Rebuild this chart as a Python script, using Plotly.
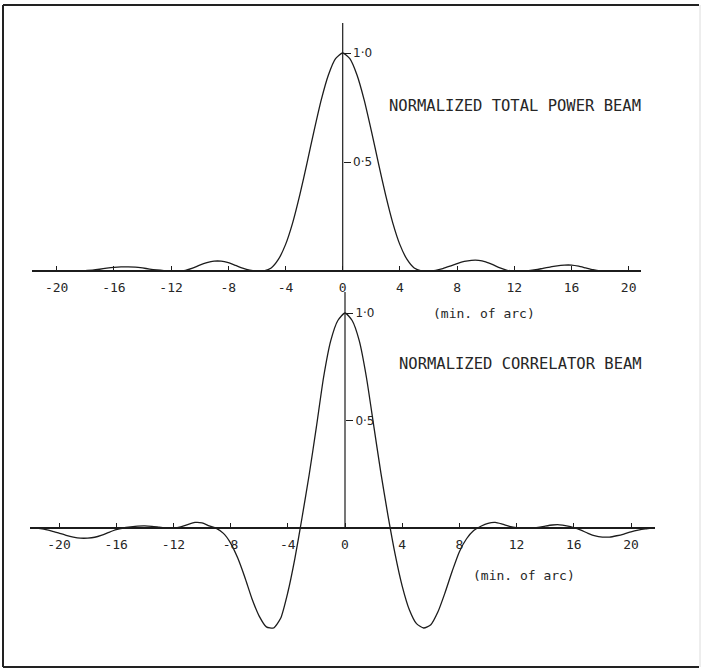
import plotly.graph_objects as go

# ---------------- data ----------------
x_arcmin = [-21.5, -21, -20.5, -20, -19.5, -19, -18.5, -18, -17.5, -17, -16.5, -16,
            -15.5, -15, -14.5, -14, -13.5, -13, -12.5, -12, -11.5, -11, -10.5, -10,
            -9.5, -9, -8.5, -8, -7.5, -7, -6.5, -6, -5.5, -5, -4.5, -4, -3.5, -3,
            -2.5, -2, -1.5, -1, -0.5, 0, 0.5, 1, 1.5, 2, 2.5, 3, 3.5, 4, 4.5, 5,
            5.5, 6, 6.5, 7, 7.5, 8, 8.5, 9, 9.5, 10, 10.5, 11, 11.5, 12, 12.5, 13,
            13.5, 14, 14.5, 15, 15.5, 16, 16.5, 17, 17.5, 18, 18.5, 19, 19.5, 20,
            20.5, 21]

total_power = [0.0, 0.0, 0.0, 0.0, 0.0, 0.0, 0.0, 0.002, 0.004, 0.008, 0.013, 0.017,
               0.019, 0.019, 0.018, 0.014, 0.009, 0.005, 0.002, 0.0, 0.0, 0.003, 0.013, 0.027,
               0.038, 0.045, 0.045, 0.038, 0.026, 0.013, 0.004, 0.0, 0.001, 0.014, 0.053, 0.121,
               0.221, 0.349, 0.494, 0.644, 0.785, 0.899, 0.974, 1.0, 0.974, 0.899, 0.785, 0.644,
               0.494, 0.349, 0.221, 0.121, 0.053, 0.014, 0.001, 0.0, 0.003, 0.011, 0.022, 0.034,
               0.044, 0.049, 0.049, 0.042, 0.029, 0.014, 0.003, 0.0, 0.0, 0.002, 0.006, 0.012,
               0.018, 0.024, 0.027, 0.027, 0.022, 0.014, 0.006, 0.001, 0.0, 0.0, 0.0, 0.0,
               0.0, 0.0]

x_corr = [-21.5, -21, -20.5, -20, -19.5, -19, -18.5, -18, -17.5, -17, -16.5, -16,
          -15.5, -15, -14.5, -14, -13.5, -13, -12.5, -12, -11.5, -11, -10.5, -10,
          -9.5, -9, -8.5, -8, -7.5, -7, -6.5, -6, -5.5, -5, -4.5, -4, -3.5, -3,
          -2.5, -2, -1.5, -1, -0.5, 0, 0.5, 1, 1.5, 2, 2.5, 3, 3.5, 4, 4.5, 5,
          5.5, 6, 6.5, 7, 7.5, 8, 8.5, 9, 9.5, 10, 10.5, 11, 11.5, 12, 12.5, 13,
          13.5, 14, 14.5, 15, 15.5, 16, 16.5, 17, 17.5, 18, 18.5, 19, 19.5, 20,
          20.5, 21, 21.5]

correlator = [0.0, -0.006, -0.014, -0.024, -0.034, -0.042, -0.047, -0.047, -0.043, -0.033, -0.02, -0.008,
              0.0, 0.005, 0.009, 0.01, 0.008, 0.004, 0.0, 0.0, 0.005, 0.016, 0.026, 0.024,
              0.01, -0.002, -0.025, -0.07, -0.14, -0.23, -0.33, -0.41, -0.46, -0.465, -0.42, -0.30,
              -0.14, 0.05, 0.25, 0.47, 0.70, 0.87, 0.965, 1.0, 0.965, 0.87, 0.70, 0.48,
              0.26, 0.06, -0.12, -0.27, -0.38, -0.445, -0.465, -0.45, -0.39, -0.30, -0.20, -0.11,
              -0.05, -0.012, 0.008, 0.022, 0.026, 0.018, 0.008, 0.002, 0.0, 0.0, 0.003, 0.009,
              0.014, 0.015, 0.01, 0.002, -0.01, -0.025, -0.037, -0.042, -0.042, -0.036, -0.028, -0.018,
              -0.01, -0.004, 0.0]

x_tick_vals = [-20, -16, -12, -8, -4, 0, 4, 8, 12, 16, 20]
x_tick_text = ["-20", "-16", "-12", "-8", "-4", "0", "4", "8", "12", "16", "20"]
y_tick_vals = [0.5, 1.0]
y_tick_text = ["0·5", "1·0"]

top_title = "NORMALIZED TOTAL POWER BEAM"
bottom_title = "NORMALIZED CORRELATOR BEAM"
x_unit = "(min. of arc)"

# ---------------- layout helpers (pixel geometry) ----------------
W, H = 701, 670
def px(x):
    return x / W
def py(y):
    return 1 - y / H

INK = "#1c1c1c"
TXT = "#262626"
MONO = "DejaVu Sans Mono"

fig = go.Figure()

fig.add_trace(go.Scatter(x=x_arcmin, y=total_power, mode="lines",
                         line=dict(color=INK, width=1.3, shape="spline", smoothing=0.6),
                         xaxis="x", yaxis="y", showlegend=False, hoverinfo="skip"))
fig.add_trace(go.Scatter(x=x_corr, y=correlator, mode="lines",
                         line=dict(color=INK, width=1.3, shape="spline", smoothing=0.6),
                         xaxis="x2", yaxis="y2", showlegend=False, hoverinfo="skip"))

# top panel geometry: 0 at px 342.7, 14.3 px/unit; y0 at 271, 218 px/unit
sx = 14.3
t0x, t0y, tsy = 342.7, 271.0, 218.0
tx_l, tx_r = 32, 641
ty_top, ty_bot = 20, 275
# bottom panel geometry
b0x, b0y, bsy = 345.0, 528.0, 215.0
bx_l, bx_r = 30, 655
by_top, by_bot = 285, 640

xaxis_common = dict(tickmode="array", tickvals=x_tick_vals, ticktext=x_tick_text,
                    ticks="inside", ticklen=4, tickwidth=1, tickcolor=INK,
                    showline=True, linewidth=2, linecolor=INK,
                    showgrid=False, zeroline=False, anchor="free",
                    tickfont=dict(family=MONO, size=13, color=TXT),
                    ticklabelstandoff=4)
yaxis_common = dict(tickmode="array", tickvals=y_tick_vals, ticktext=y_tick_text,
                    ticks="outside", ticklen=7, tickwidth=1, tickcolor=INK,
                    showline=False, showgrid=False, zeroline=False, anchor="free",
                    side="right", ticklabelstandoff=0,
                    tickfont=dict(family="DejaVu Sans", size=12, color=TXT))

fig.update_layout(
    width=W, height=H,
    margin=dict(l=0, r=0, t=0, b=0),
    paper_bgcolor="white", plot_bgcolor="rgba(0,0,0,0)",
    xaxis=dict(domain=[px(tx_l), px(tx_r)],
               range=[(tx_l - t0x) / sx, (tx_r - t0x) / sx],
               position=py(t0y), **xaxis_common),
    yaxis=dict(domain=[py(ty_bot), py(ty_top)],
               range=[(t0y - ty_bot) / tsy, (t0y - ty_top) / tsy],
               position=px(t0x), **yaxis_common),
    xaxis2=dict(domain=[px(bx_l), px(bx_r)],
                range=[(bx_l - b0x) / sx, (bx_r - b0x) / sx],
                position=py(b0y), **xaxis_common),
    yaxis2=dict(domain=[py(by_bot), py(by_top)],
                range=[(b0y - by_bot) / bsy, (b0y - by_top) / bsy],
                position=px(b0x), **yaxis_common),
)

# vertical axis lines through x = 0
fig.add_shape(type="line", xref="x", yref="y", x0=0, x1=0, y0=0, y1=(t0y - 23) / tsy,
              line=dict(color=INK, width=1.2))
fig.add_shape(type="line", xref="x2", yref="y2", x0=0, x1=0, y0=0, y1=(b0y - 292) / bsy,
              line=dict(color=INK, width=1.2))

# frame (left, top, bottom edges; faint right edge)
frame = dict(color="#222", width=2)
fig.add_shape(type="line", xref="paper", yref="paper", x0=px(3), x1=px(3), y0=py(5), y1=py(667), line=frame)
fig.add_shape(type="line", xref="paper", yref="paper", x0=px(3), x1=px(699), y0=py(5), y1=py(5), line=frame)
fig.add_shape(type="line", xref="paper", yref="paper", x0=px(3), x1=px(699), y0=py(667), y1=py(667), line=frame)
fig.add_shape(type="line", xref="paper", yref="paper", x0=px(700), x1=px(700), y0=py(5), y1=py(667),
              line=dict(color="#dcdcdc", width=1))

# texts
fig.add_annotation(text=top_title, xref="paper", yref="paper", x=px(387), y=py(106),
                   xanchor="left", yanchor="middle", showarrow=False,
                   font=dict(family=MONO, size=15.5, color=TXT))
fig.add_annotation(text=bottom_title, xref="paper", yref="paper", x=px(397), y=py(364),
                   xanchor="left", yanchor="middle", showarrow=False,
                   font=dict(family=MONO, size=15.5, color=TXT))
fig.add_annotation(text=x_unit, xref="paper", yref="paper", x=px(484.5), y=py(313),
                   xanchor="center", yanchor="middle", showarrow=False,
                   font=dict(family=MONO, size=13, color=TXT))
fig.add_annotation(text=x_unit, xref="paper", yref="paper", x=px(524), y=py(575),
                   xanchor="center", yanchor="middle", showarrow=False,
                   font=dict(family=MONO, size=13, color=TXT))

fig.write_html("out.html", config={"displayModeBar": False},
               post_script="document.body.style.margin='0';document.body.style.overflow='hidden';")
